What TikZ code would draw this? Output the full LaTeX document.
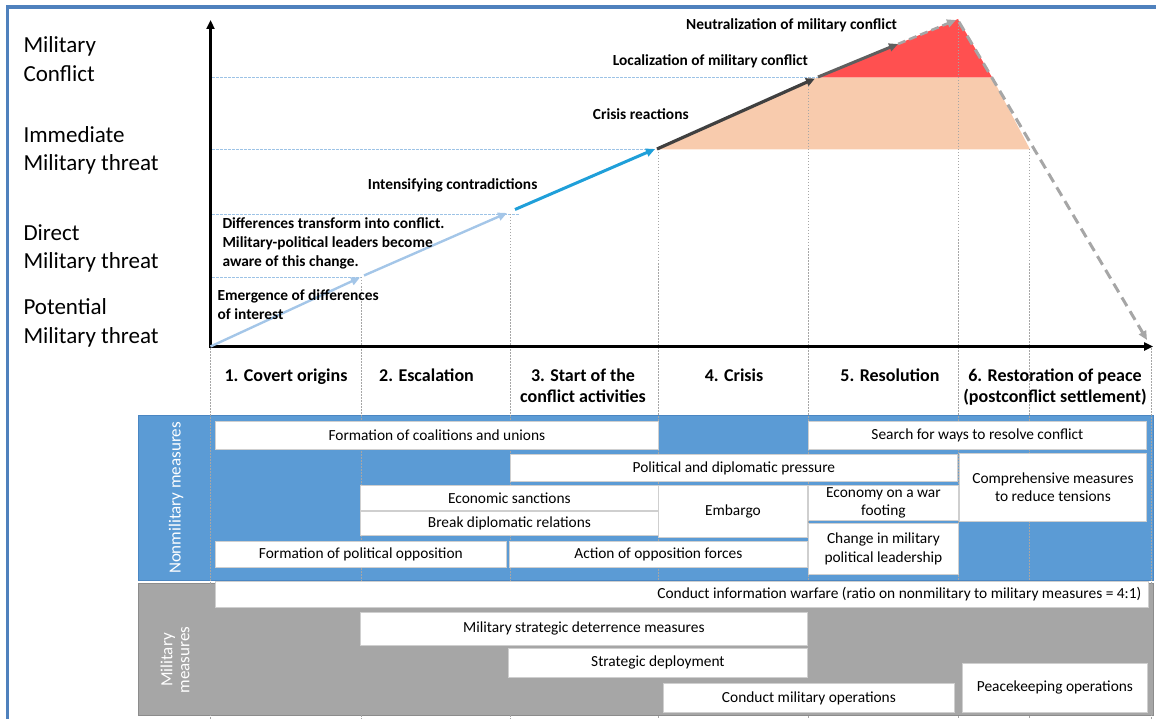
\documentclass[tikz,border=0pt]{standalone}
\usepackage{fontspec}
\setmainfont{Carlito}
\usetikzlibrary{arrows.meta}
\definecolor{frameblue}{HTML}{4F81BD}
\definecolor{bandblue}{HTML}{5B9BD5}
\definecolor{bandblueline}{HTML}{4A86C2}
\definecolor{bandgray}{HTML}{A6A6A6}
\definecolor{bandgrayline}{HTML}{8C8C8C}
\definecolor{lightarrow}{HTML}{A4C6E8}
\definecolor{brightarrow}{HTML}{1F9FD9}
\definecolor{darkline}{HTML}{404040}
\definecolor{midline}{HTML}{5F5F5F}
\definecolor{peach}{HTML}{F8CBAD}
\definecolor{redfill}{HTML}{FF5050}
\definecolor{dashgray}{HTML}{A6A6A6}
\definecolor{guideblue}{HTML}{9DC3E6}
\definecolor{guidegray}{HTML}{A6A6A6}
\definecolor{boxline}{HTML}{CFCFCF}
\newcommand\mbx[6]{\node[mbox, minimum width={(#3-#1)*1pt}, minimum height={(#4-#2)*1pt}] (#5) at (#1,#2) {#6};}
\tikzset{
 mbox/.style={draw=boxline, line width=0.8pt, fill=white, inner sep=0pt, align=center,
   font=\fontsize{15.4}{18.3}\selectfont, anchor=north west},
 levellabel/.style={anchor=base west, inner sep=0pt, align=left, font=\fontsize{23}{28.5}\selectfont},
 graphlabel/.style={anchor=base west, inner sep=0pt, align=left, font=\bfseries\fontsize{15.4}{18.6}\selectfont},
 phaselabel/.style={anchor=base, inner sep=0pt, align=center, font=\bfseries\fontsize{18}{21}\selectfont},
 bandlabel/.style={rotate=90, text=white, inner sep=0pt, align=center, font=\fontsize{17}{17}\selectfont},
 vguide/.style={guidegray, line width=0.7pt, dash pattern=on 1.5pt off 1.5pt},
 hguide/.style={guideblue, line width=0.8pt, dash pattern=on 2.5pt off 1.5pt},
 axisline/.style={line width=2.6pt, -{Triangle[length=9pt,width=8pt]}},
 tip/.style={-{Triangle[length=9pt,width=8pt]}},
}
\begin{document}
\begin{tikzpicture}[x=1pt,y=-1pt]
\useasboundingbox (0,0) rectangle (1156,719);
% frame
\draw[frameblue, line width=3.5pt] (7.5,719) -- (7.5,7) -- (1156,7);
% bands
\fill[bandblue, draw=bandblueline, line width=0.8pt] (138,415) rectangle (1153,580);
\fill[bandgray, draw=bandgrayline, line width=0.8pt] (138,583) rectangle (1153,715);
% coordinates
\coordinate (O) at (210.5,346.5);
\coordinate (yt) at (210.5,20);
\coordinate (xt) at (1153,346.5);
\coordinate (p1) at (360,277.5);
\coordinate (p1b) at (364,275.5);
\coordinate (p2) at (507,213);
\coordinate (p3) at (515,209.5);
\coordinate (p4) at (655,149);
\coordinate (p5) at (657,149);
\coordinate (p6) at (815,78.5);
\coordinate (p7) at (818,77);
\coordinate (p8) at (898,44);
\coordinate (pk) at (956,20);
\coordinate (pk2) at (959,22);
\coordinate (pe) at (1147,340);
% fills
\fill[peach] (656,149.3) -- (818,77.3) -- (992,77.3) -- (1030,149.3) -- cycle;
\fill[redfill] (818,77.3) -- (958,19) -- (992,77.3) -- cycle;
% horizontal guides
\draw[hguide] (212,77.3) -- (818,77.3);
\draw[hguide] (212,149.3) -- (655,149.3);
\draw[hguide] (212,214.3) -- (520,214.3);
\draw[hguide] (212,277.3) -- (361,277.3);
% vertical guides
\foreach \gx/\gy in {210.5/348, 361/277, 510/214, 658/149, 808/77, 958/20, 1029/149, 1151/348}
  \draw[vguide] (\gx,\gy) -- (\gx,719);
% axes
\draw[axisline] (O) -- (yt);
\draw[axisline] (209,346.5) -- (xt);
% arrows
\draw[lightarrow, line width=2.4pt, tip] (O) -- (p1);
\draw[lightarrow, line width=2.4pt, tip] (p1b) -- (p2);
\draw[brightarrow, line width=3pt, tip] (p3) -- (p4);
\draw[darkline, line width=3.2pt, tip] (p5) -- (p6);
\draw[midline, line width=3pt, tip] (p7) -- (p8);
\draw[dashgray, line width=2.6pt, dash pattern=on 8pt off 4pt, tip] (p8) -- (pk);
\draw[dashgray, line width=3pt, dash pattern=on 10pt off 6pt, tip] (pk2) -- (pe);
% level labels (base = baseline of last line)
\node[levellabel] (lv1) at (23.3,81.3) {Military\\Conflict};
\node[levellabel] (lv2) at (23.3,170.7) {Immediate\\Military threat};
\node[levellabel] (lv3) at (23.3,268.7) {Direct\\Military threat};
\node[levellabel] (lv4) at (23.3,343.3) {Potential\\Military threat};
% graph labels
\node[graphlabel] (g1) at (217.5,319.3) {Emergence of differences\\of interest};
\node[graphlabel] (g2) at (222.3,266) {Differences transform into conflict.\\Military-political leaders become\\aware of this change.};
\node[graphlabel] (g3) at (367.7,189.3) {Intensifying contradictions};
\node[graphlabel] (g4) at (592.7,119.3) {Crisis reactions};
\node[graphlabel] (g5) at (612.7,65.7) {Localization of military conflict};
\node[graphlabel] (g6) at (686,29.3) {Neutralization of military conflict};
% phase labels
\node[phaselabel] (ph1) at (286,381) {1. Covert origins};
\node[phaselabel] (ph2) at (426.5,381) {2. Escalation};
\node[phaselabel] (ph3) at (583,402) {3. Start of the\\conflict activities};
\node[phaselabel] (ph4) at (734,381) {4. Crisis};
\node[phaselabel] (ph5) at (890,381) {5. Resolution};
\node[phaselabel] (ph6) at (1055,402) {6. Restoration of peace\\(postconflict settlement)};
% band labels
\node[bandlabel] (nm) at (176,498) {Nonmilitary measures};
\node[bandlabel] (mm) at (175,660) {Military\\measures};
% nonmilitary boxes
\mbx{215}{421}{658}{449}{coal}{Formation of coalitions and unions}
\mbx{808}{421}{1146}{449}{search}{Search for ways to resolve conflict}
\mbx{510}{454}{957}{481}{pdp}{Political and diplomatic pressure}
\mbx{959}{453}{1146}{521}{compr}{Comprehensive measures\\to reduce tensions}
\mbx{360}{485}{658}{510}{econ}{Economic sanctions}
\mbx{360}{511}{658}{535}{brk}{Break diplomatic relations}
\mbx{658}{485}{807}{537}{emb}{Embargo}
\mbx{808}{485}{958}{520}{war}{Economy on a war\\footing}
\mbx{808}{523}{958}{574}{chg}{Change in military\\political leadership}
\mbx{215}{541}{506}{567}{fpo}{Formation of political opposition}
\mbx{509}{541}{807}{567}{aof}{Action of opposition forces}
% military boxes
\node[mbox, minimum width=933pt, minimum height=26pt, text width=919pt, align=flush right] (info) at (215,581)
  {Conduct information warfare (ratio on nonmilitary to military measures = 4:1)};
\mbx{360}{612}{807}{645}{det}{Military strategic deterrence measures}
\mbx{508}{648}{807}{677}{dep}{Strategic deployment}
\mbx{663}{683}{954}{712}{cmo}{Conduct military operations}
\mbx{962}{663}{1147}{712}{pko}{Peacekeeping operations}
\end{tikzpicture}
\end{document}
